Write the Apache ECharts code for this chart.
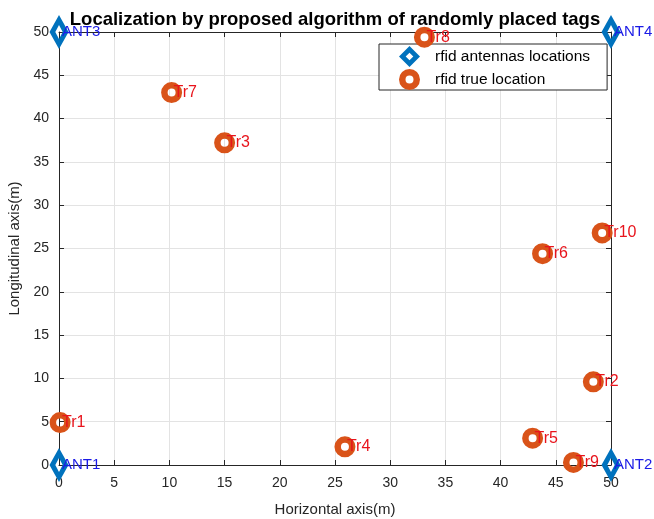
<!DOCTYPE html>
<html>
<head>
<meta charset="utf-8">
<script src="https://cdn.jsdelivr.net/npm/echarts@6/dist/echarts.min.js"></script>
<style>
  html, body { margin: 0; padding: 0; background: #fff; }
  #chart { width: 654px; height: 519px; }
</style>
</head>
<body>
<div id="chart"></div>
<script>
// Antenna positions (m)
const antNames = ['ANT1', 'ANT2', 'ANT3', 'ANT4'];
const antX = [0, 50, 0, 50];
const antY = [0, 0, 50, 50];

// Tag positions (m)
const tagNames = ['Tr1', 'Tr2', 'Tr3', 'Tr4', 'Tr5', 'Tr6', 'Tr7', 'Tr8', 'Tr9', 'Tr10'];
const tagX = [0.1, 48.4, 15.0, 25.9, 42.9, 43.8, 10.2, 33.1, 46.6, 49.2];
const tagY = [4.9, 9.6, 37.2, 2.1, 3.1, 24.4, 43.0, 49.4, 0.3, 26.8];

// Axis ticks
const xTicks = [0, 5, 10, 15, 20, 25, 30, 35, 40, 45, 50];
const yTicks = [0, 5, 10, 15, 20, 25, 30, 35, 40, 45, 50];

const FONT = 'Liberation Sans, Arial, sans-serif';
const AX = '#262626';

// Thick-outlined markers: filled shape with a hole cut out (opposite winding)
const DIAMOND = 'path://M9,0L18,17L9,34L0,17Z M9,10L5.5,17L9,24L12.5,17Z';
const DIAMOND_KEY = 'path://M11,0L22,11L11,22L0,11Z M11,7L7,11L11,15L15,11Z';
const RING = 'path://M0,-10.5A10.5,10.5,0,1,1,0,10.5A10.5,10.5,0,1,1,0,-10.5Z ' +
             'M0,-4A4,4,0,1,0,0,4A4,4,0,1,0,0,-4Z';

const antData = antNames.map((n, i) => ({ name: n, value: [antX[i], antY[i]] }));
const tagData = tagNames.map((n, i) => ({ name: n, value: [tagX[i], tagY[i]] }));

function valueAxis(pos, ticks, showLabels, labelMargin) {
  return {
    type: 'value',
    position: pos,
    min: ticks[0],
    max: ticks[ticks.length - 1],
    interval: ticks[1] - ticks[0],
    axisLine: { show: true, onZero: false, lineStyle: { color: AX, width: 1 } },
    axisTick: { show: true, inside: true, length: 5, lineStyle: { color: AX } },
    axisLabel: { show: showLabels, color: AX, fontSize: 14, fontFamily: FONT, margin: labelMargin },
    splitLine: { show: showLabels, lineStyle: { color: '#e3e3e3', width: 1 } }
  };
}

const chart = echarts.init(document.getElementById('chart'), null, { renderer: 'canvas' });
chart.setOption({
  animation: false,
  backgroundColor: '#ffffff',
  title: {
    text: 'Localization by proposed algorithm of randomly placed tags',
    left: 330, top: 5, textAlign: 'center',
    textStyle: { fontSize: 18.5, fontWeight: 'bold', color: '#000', fontFamily: FONT }
  },
  grid: { left: 59, right: 43, top: 32, bottom: 54, containLabel: false, outerBoundsMode: 'none' },
  xAxis: [
    Object.assign(valueAxis('bottom', xTicks, true, 11), {
      name: 'Horizontal axis(m)', nameLocation: 'middle', nameGap: 37,
      nameTextStyle: { fontSize: 15, color: AX, fontFamily: FONT }
    }),
    valueAxis('top', xTicks, false, 8)
  ],
  yAxis: [
    Object.assign(valueAxis('left', yTicks, true, 10), {
      name: 'Longitudinal axis(m)', nameLocation: 'middle', nameGap: 34,
      nameTextStyle: { fontSize: 15, color: AX, fontFamily: FONT }
    }),
    valueAxis('right', yTicks, false, 8)
  ],
  legend: {
    orient: 'vertical',
    left: 379, top: 44,
    padding: [2, 17, 0, 20],
    itemWidth: 41, itemHeight: 21, itemGap: 2,
    symbolKeepAspect: true,
    backgroundColor: '#fff', borderColor: AX, borderWidth: 1, borderRadius: 0,
    textStyle: { fontSize: 15.5, color: '#000', fontFamily: FONT },
    data: [
      { name: 'rfid antennas locations', icon: DIAMOND_KEY },
      { name: 'rfid true location', icon: RING }
    ]
  },
  series: [
    {
      name: 'rfid antennas locations',
      type: 'scatter',
      clip: false,
      symbol: DIAMOND,
      symbolSize: [19, 34],
      symbolKeepAspect: false,
      itemStyle: { color: '#0072BD', opacity: 1 },
      label: {
        show: true, position: ['50%', '50%'], align: 'left', verticalAlign: 'middle',
        offset: [3, 0], formatter: '{b}', color: '#1a1ae6', fontSize: 15, fontFamily: FONT
      },
      data: antData,
      z: 3
    },
    {
      name: 'rfid true location',
      type: 'scatter',
      clip: false,
      symbol: RING,
      symbolSize: 21,
      symbolKeepAspect: true,
      itemStyle: { color: '#D95319', opacity: 1 },
      label: {
        show: true, position: ['50%', '50%'], align: 'left', verticalAlign: 'middle',
        offset: [2, 0], formatter: '{b}', color: '#e8141c', fontSize: 16, fontFamily: FONT
      },
      data: tagData,
      z: 4
    }
  ]
});
</script>
</body>
</html>
